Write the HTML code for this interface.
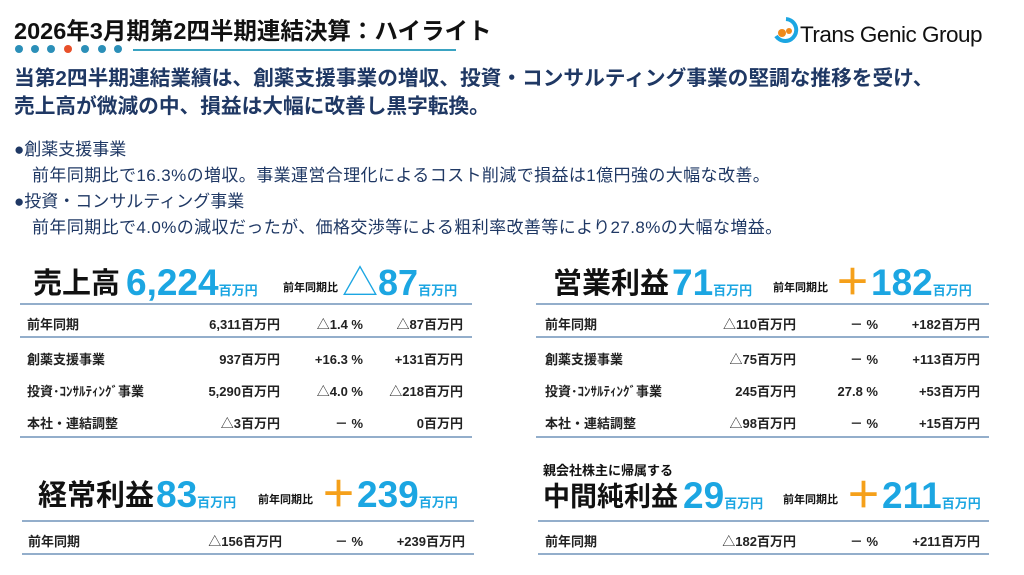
<!DOCTYPE html>
<html><head><meta charset="utf-8"><style>
*{margin:0;padding:0;box-sizing:border-box}
body{width:1024px;height:575px;background:#fff;position:relative;overflow:hidden;font-family:"Liberation Sans","Noto Sans CJK JP",sans-serif;color:#111}
.a{position:absolute;white-space:nowrap;line-height:1}
.b{font-weight:bold}
.nv{color:#1f3864}
.cy{color:#1ca6e2}
.or{color:#f5a01a}
.ln{position:absolute;height:2px;background:#93aecb}
.r{font-size:13px;font-weight:bold;color:#222}
.dot{position:absolute;width:8px;height:8px;border-radius:50%;background:#2b8fb8;top:45px}
</style></head><body>
<div class="a b" style="left:14px;top:20px;font-size:23.5px;color:#111">2026年3月期第2四半期連結決算：ハイライト</div>
<div class="dot" style="left:15px"></div><div class="dot" style="left:31px"></div><div class="dot" style="left:47px"></div><div class="dot" style="left:64px;background:#e8502a"></div><div class="dot" style="left:81px"></div><div class="dot" style="left:98px"></div><div class="dot" style="left:114px"></div>
<div style="position:absolute;left:133px;top:49px;width:323px;height:2px;background:#3aa3c2"></div>
<svg style="position:absolute;left:772px;top:16px" width="28" height="28"><path d="M14 3 A11 11 0 1 1 4 20" stroke="#1ca6e2" stroke-width="4" fill="none"/><circle cx="10" cy="17" r="4" fill="#f08a1c"/><circle cx="17" cy="15" r="3" fill="#f08a1c"/></svg>
<div class="a" style="left:800px;top:24px;font-size:22.5px;color:#111;letter-spacing:-0.5px">Trans Genic Group</div>
<div class="a b nv" style="left:14px;top:69px;font-size:20.7px">当第2四半期連結業績は、創薬支援事業の増収、投資・コンサルティング事業の堅調な推移を受け、</div>
<div class="a b nv" style="left:14px;top:97px;font-size:20.7px">売上高が微減の中、損益は大幅に改善し黒字転換。</div>
<div class="a nv" style="left:14px;top:141px;font-size:17px">●創薬支援事業</div>
<div class="a nv" style="left:32px;top:167px;font-size:17px;letter-spacing:0.4px">前年同期比で16.3%の増収。事業運営合理化によるコスト削減で損益は1億円強の大幅な改善。</div>
<div class="a nv" style="left:14px;top:193px;font-size:17px">●投資・コンサルティング事業</div>
<div class="a nv" style="left:32px;top:219px;font-size:17px;letter-spacing:0.4px">前年同期比で4.0%の減収だったが、価格交渉等による粗利率改善等により27.8%の大幅な増益。</div>

<!-- Sales -->
<div class="a b" style="left:33px;top:270px;font-size:29px">売上高</div>
<div class="a b cy" style="left:126px;top:264px;font-size:37px">6,224<span style="font-size:13px">百万円</span></div>
<div class="a b" style="left:283px;top:283px;font-size:11px">前年同期比</div>
<div class="a cy" style="left:342px;top:265px;font-size:36px">△<b>87</b><span class="b" style="font-size:13px">百万円</span></div>
<div class="ln" style="left:20px;top:303px;width:452px"></div>
<div class="a r" style="left:27px;top:318px">前年同期</div><div class="a r" style="right:744px;top:318px">6,311百万円</div><div class="a r" style="right:661px;top:318px"><span style="font-weight:normal">△</span>1.4 %</div><div class="a r" style="right:561px;top:318px"><span style="font-weight:normal">△</span>87百万円</div>
<div class="ln" style="left:20px;top:336px;width:452px"></div>
<div class="a r" style="left:27px;top:353px">創薬支援事業</div><div class="a r" style="right:744px;top:353px">937百万円</div><div class="a r" style="right:661px;top:353px">+16.3 %</div><div class="a r" style="right:561px;top:353px">+131百万円</div>
<div class="a r" style="left:27px;top:385px">投資･ｺﾝｻﾙﾃｨﾝｸﾞ事業</div><div class="a r" style="right:744px;top:385px">5,290百万円</div><div class="a r" style="right:661px;top:385px"><span style="font-weight:normal">△</span>4.0 %</div><div class="a r" style="right:561px;top:385px"><span style="font-weight:normal">△</span>218百万円</div>
<div class="a r" style="left:27px;top:417px">本社・連結調整</div><div class="a r" style="right:744px;top:417px"><span style="font-weight:normal">△</span>3百万円</div><div class="a r" style="right:661px;top:417px">－ %</div><div class="a r" style="right:561px;top:417px">0百万円</div>
<div class="ln" style="left:20px;top:436px;width:452px"></div>

<!-- Operating profit -->
<div class="a b" style="left:553px;top:270px;font-size:29px">営業利益</div>
<div class="a b cy" style="left:672px;top:264px;font-size:37px">71<span style="font-size:13px">百万円</span></div>
<div class="a b" style="left:773px;top:283px;font-size:11px">前年同期比</div>
<div class="a b" style="left:834px;top:264px;font-size:37px"><span class="or">＋</span><span class="cy">182</span><span class="cy" style="font-size:13px">百万円</span></div>
<div class="ln" style="left:536px;top:303px;width:453px"></div>
<div class="a r" style="left:545px;top:318px">前年同期</div><div class="a r" style="right:228px;top:318px"><span style="font-weight:normal">△</span>110百万円</div><div class="a r" style="right:146px;top:318px">－ %</div><div class="a r" style="right:44px;top:318px">+182百万円</div>
<div class="ln" style="left:536px;top:336px;width:453px"></div>
<div class="a r" style="left:545px;top:353px">創薬支援事業</div><div class="a r" style="right:228px;top:353px"><span style="font-weight:normal">△</span>75百万円</div><div class="a r" style="right:146px;top:353px">－ %</div><div class="a r" style="right:44px;top:353px">+113百万円</div>
<div class="a r" style="left:545px;top:385px">投資･ｺﾝｻﾙﾃｨﾝｸﾞ事業</div><div class="a r" style="right:228px;top:385px">245百万円</div><div class="a r" style="right:146px;top:385px">27.8 %</div><div class="a r" style="right:44px;top:385px">+53百万円</div>
<div class="a r" style="left:545px;top:417px">本社・連結調整</div><div class="a r" style="right:228px;top:417px"><span style="font-weight:normal">△</span>98百万円</div><div class="a r" style="right:146px;top:417px">－ %</div><div class="a r" style="right:44px;top:417px">+15百万円</div>
<div class="ln" style="left:536px;top:436px;width:453px"></div>

<!-- Ordinary profit -->
<div class="a b" style="left:38px;top:482px;font-size:29px">経常利益</div>
<div class="a b cy" style="left:156px;top:476px;font-size:37px">83<span style="font-size:13px">百万円</span></div>
<div class="a b" style="left:258px;top:495px;font-size:11px">前年同期比</div>
<div class="a b" style="left:320px;top:476px;font-size:37px"><span class="or">＋</span><span class="cy">239</span><span class="cy" style="font-size:13px">百万円</span></div>
<div class="ln" style="left:22px;top:520px;width:452px"></div>
<div class="a r" style="left:28px;top:535px">前年同期</div><div class="a r" style="right:742px;top:535px"><span style="font-weight:normal">△</span>156百万円</div><div class="a r" style="right:661px;top:535px">－ %</div><div class="a r" style="right:559px;top:535px">+239百万円</div>
<div class="ln" style="left:22px;top:553px;width:452px"></div>

<!-- Net profit -->
<div class="a b" style="left:543px;top:464px;font-size:13px">親会社株主に帰属する</div>
<div class="a b" style="left:543px;top:484px;font-size:27px">中間純利益</div>
<div class="a b cy" style="left:683px;top:477px;font-size:37px">29<span style="font-size:13px">百万円</span></div>
<div class="a b" style="left:783px;top:495px;font-size:11px">前年同期比</div>
<div class="a b" style="left:845px;top:477px;font-size:37px"><span class="or">＋</span><span class="cy">211</span><span class="cy" style="font-size:13px">百万円</span></div>
<div class="ln" style="left:538px;top:520px;width:451px"></div>
<div class="a r" style="left:545px;top:535px">前年同期</div><div class="a r" style="right:228px;top:535px"><span style="font-weight:normal">△</span>182百万円</div><div class="a r" style="right:146px;top:535px">－ %</div><div class="a r" style="right:44px;top:535px">+211百万円</div>
<div class="ln" style="left:538px;top:553px;width:451px"></div>
</body></html>
